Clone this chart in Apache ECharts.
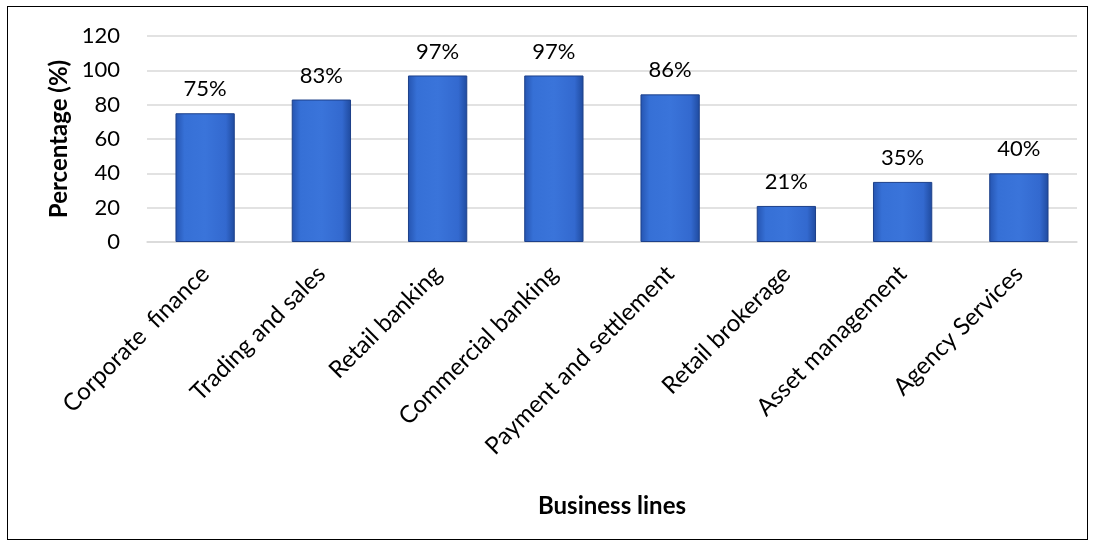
<!DOCTYPE html>
<html>
<head>
<meta charset="utf-8">
<script src="https://cdn.jsdelivr.net/npm/echarts@6/dist/echarts.min.js"></script>
<style>
  html, body { margin: 0; padding: 0; background: #fff; }
  #frame {
    position: absolute; left: 7px; top: 6px;
    width: 1079px; height: 532px;
    border: 1.5px solid #000;
  }
  #chart { position: absolute; left: 0; top: 0; width: 1095px; height: 546px; }
</style>
</head>
<body>
<div id="frame"></div>
<div id="chart"></div>
<script>
  var categories = ['Corporate  finance', 'Trading and sales', 'Retail banking', 'Commercial banking',
                    'Payment and settlement', 'Retail brokerage', 'Asset management', 'Agency Services'];
  var percentages = [75, 83, 97, 97, 86, 21, 35, 40];

  var font = 'Lato, "Open Sans", sans-serif';
  var chart = echarts.init(document.getElementById('chart'));

  chart.setOption({
    animation: false,
    grid: { left: 147, right: 18, top: 36, bottom: 304 },
    xAxis: {
      type: 'category',
      data: categories,
      name: 'Business lines',
      nameLocation: 'middle',
      nameGap: 252,
      nameTextStyle: { fontFamily: font, fontSize: 24, fontWeight: 'bold', color: '#000' },
      axisLine: { lineStyle: { color: '#d9d9d9', width: 1.5 } },
      axisTick: { show: false },
      axisLabel: { rotate: 45, fontFamily: font, fontSize: 24, color: '#000', margin: 28, interval: 0 }
    },
    yAxis: {
      type: 'value',
      min: 0, max: 120, interval: 20,
      name: 'Percentage (%)',
      nameLocation: 'middle',
      nameGap: 76,
      nameTextStyle: { fontFamily: font, fontSize: 24, fontWeight: 'bold', color: '#000' },
      axisLine: { show: false },
      axisTick: { show: false },
      axisLabel: { fontFamily: font, fontSize: 22, color: '#000', margin: 27 },
      splitLine: { lineStyle: { color: '#d9d9d9', width: 1.5 } }
    },
    series: [{
      type: 'bar',
      data: percentages,
      barWidth: '51%',
      itemStyle: {
        color: new echarts.graphic.LinearGradient(0, 0, 1, 0, [
          { offset: 0, color: '#2554b0' },
          { offset: 0.15, color: '#3670d6' },
          { offset: 0.5, color: '#3a74da' },
          { offset: 0.85, color: '#3369cf' },
          { offset: 1, color: '#1f4a9e' }
        ]),
        borderColor: '#1d408a',
        borderWidth: 1
      },
      label: {
        show: true,
        position: 'top',
        distance: 13,
        formatter: '{c}%',
        fontFamily: font,
        fontSize: 22,
        color: '#000'
      }
    }]
  });
</script>
</body>
</html>
